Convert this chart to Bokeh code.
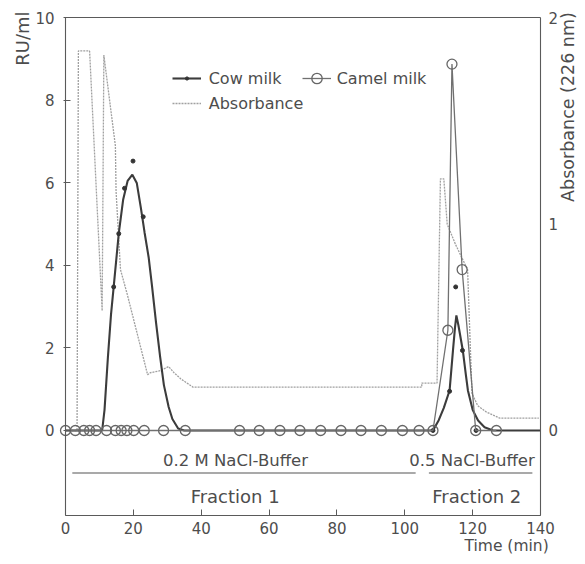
from bokeh.plotting import figure
from bokeh.models import (Range1d, LinearAxis, FixedTicker, Label, Legend, LegendItem,
                          ColumnDataSource)
from bokeh.embed import file_html
from bokeh.resources import INLINE
import math

# ---------------- data ----------------
# Cow milk: drawn (smoothed) curve, RU/ml
cow_curve_t = [0, 10.8, 11.5, 12.5, 13.4, 14.2, 15.7, 17.0, 18.3, 19.7, 21.0, 22.2, 23.3,
               24.5, 25.5, 26.7, 27.9, 29.0, 30.4, 31.5, 33.2, 35.0,
               108.3, 110.0, 111.5, 113.2, 114.2, 114.8, 115.2, 115.8, 117.1, 118.0, 118.6,
               120.0, 121.6, 123.5, 126.0, 140.0]
cow_curve_ru = [0, 0, 0.5, 1.78, 2.8, 3.48, 4.78, 5.6, 6.05, 6.2, 6.0, 5.4, 4.8,
                4.2, 3.5, 2.6, 1.78, 1.1, 0.57, 0.28, 0.05, 0,
                0, 0.25, 0.55, 0.97, 1.94, 2.5, 2.79, 2.55, 1.94, 1.35, 0.97,
                0.5, 0.24, 0.08, 0, 0]
# Cow milk: measured points
cow_pts_t = [14.2, 15.7, 17.4, 19.9, 22.9, 108.3, 113.2, 115.0, 117.0, 121.0]
cow_pts_ru = [3.48, 4.77, 5.87, 6.53, 5.18, 0, 0.95, 3.48, 1.94, 0]

# Camel milk: measured points (RU/ml)
camel_t = [0, 2.9, 5.4, 7.1, 9.0, 12.1, 14.7, 16.4, 18.1, 20.1, 23.2, 28.9, 35.3,
           51.3, 57.1, 63.2, 69.1, 75.2, 81.2, 87.1, 93.1, 99.3, 104.2, 108.3,
           112.7, 113.9, 116.9, 120.9, 127.0]
camel_ru = [0, 0, 0, 0, 0, 0, 0, 0, 0, 0, 0, 0, 0,
            0, 0, 0, 0, 0, 0, 0, 0, 0, 0, 0,
            2.43, 8.88, 3.9, 0, 0]

# Absorbance at 226 nm
abs_t = [0, 3.4, 3.8, 7.1, 10.8, 11.3, 14.7, 14.9, 16.2, 18.2, 24.2, 25.0, 27.9, 30.4,
         32.0, 34.0, 37.6, 40.0, 105.0, 105.0, 109.5, 110.5, 111.5, 112.5, 115.0, 118.5,
         119.8, 121.5, 124.0, 128.0, 139.5]
abs_val = [0, 0, 1.84, 1.84, 0.58, 1.82, 1.38, 1.16, 0.78, 0.66, 0.27, 0.28, 0.29, 0.31,
           0.28, 0.25, 0.21, 0.21, 0.21, 0.23, 0.23, 1.22, 1.22, 1.0, 0.9, 0.78,
           0.18, 0.12, 0.09, 0.06, 0.06]

x_ticks = [0, 20, 40, 60, 80, 100, 120, 140]
ru_ticks = [0, 2, 4, 6, 8, 10]
abs_ticks = [0, 1, 2]

# buffer / fraction annotations
buffer_labels = ["0.2 M NaCl-Buffer", "0.5 NaCl-Buffer"]
buffer_x = [50.1, 119.8]
buffer_start = [2.0, 107.1]
buffer_end = [103.2, 137.6]
fraction_labels = ["Fraction 1", "Fraction 2"]
fraction_x = [50.0, 121.2]

# ---------------- layout constants ----------------
FONT = "DejaVu Sans"
TXT = "#4d4d4d"
AX = "#5a5a5a"
T0, T1 = 0, 140          # time axis extent
Y0, Y1 = -2.06, 10.01    # RU/ml axis extent (frame of the chart box)
RATIO = 5.0              # RU/ml per absorbance unit

# The Bokeh frame fills the canvas; the chart box is drawn with fixed-location axes
p = figure(width=577, height=556, output_backend="svg", toolbar_location=None,
           x_range=Range1d(-19.16, 150.9), y_range=Range1d(-3.054, 10.422),
           x_axis_location=None, y_axis_location=None, min_border=0)
p.extra_y_ranges = {"abs": Range1d(-3.054 / RATIO, 10.422 / RATIO)}
p.xgrid.visible = False
p.ygrid.visible = False
p.outline_line_color = None
p.background_fill_color = "white"
p.border_fill_color = "white"


def style_axis(ax, tick_in, tick_out, standoff):
    ax.major_tick_in = tick_in
    ax.major_tick_out = tick_out
    ax.minor_tick_line_color = None
    ax.major_label_standoff = standoff
    ax.axis_line_color = AX
    ax.axis_line_width = 1.1
    ax.major_tick_line_color = AX
    ax.major_label_text_font = FONT
    ax.major_label_text_font_size = "15px"
    ax.major_label_text_color = TXT


xa = LinearAxis(fixed_location=Y0, bounds=(T0, T1), ticker=FixedTicker(ticks=x_ticks))
style_axis(xa, 6, 0, 7)
p.add_layout(xa, "below")

ya = LinearAxis(fixed_location=T0, bounds=(Y0, Y1), ticker=FixedTicker(ticks=ru_ticks))
style_axis(ya, 5, 2, 9)
p.add_layout(ya, "left")

ra = LinearAxis(y_range_name="abs", fixed_location=T1, bounds=(Y0 / RATIO, Y1 / RATIO),
                ticker=FixedTicker(ticks=abs_ticks))
style_axis(ra, 0, 0, 8)
p.add_layout(ra, "right")

ta = LinearAxis(fixed_location=Y1, bounds=(T0, T1), ticker=FixedTicker(ticks=[]))
style_axis(ta, 0, 0, 0)
ta.major_label_text_font_size = "0px"
p.add_layout(ta, "above")

# ---------------- glyphs ----------------
abs_line = p.line(abs_t, abs_val, y_range_name="abs", line_color="#a0a0a0",
                  line_width=1.3, line_dash="2 1")
cow_line = p.line(cow_curve_t, cow_curve_ru, line_color="#3c3c3c", line_width=2.1)
cow_dots = p.scatter(cow_pts_t, cow_pts_ru, marker="circle", size=4,
                     fill_color="#333333", line_color="#333333")
camel_line = p.line(camel_t, camel_ru, line_color="#707070", line_width=1.3)
camel_circ = p.scatter(camel_t, camel_ru, marker="circle", size=10, fill_color=None,
                       line_color="#666666", line_width=1.3)

# buffer lines
seg_src = ColumnDataSource(dict(x0=buffer_start, x1=buffer_end,
                                y0=[-1.03] * len(buffer_start), y1=[-1.03] * len(buffer_start)))
p.segment(x0="x0", y0="y0", x1="x1", y1="y1", source=seg_src, line_color="#555555",
          line_width=1.2)

for lab, xv in zip(buffer_labels, buffer_x):
    p.add_layout(Label(x=xv, y=-0.73, text=lab, text_align="center", text_baseline="middle",
                       text_font=FONT, text_font_size="16.5px", text_color=TXT))
for lab, xv in zip(fraction_labels, fraction_x):
    p.add_layout(Label(x=xv, y=-1.6, text=lab, text_align="center", text_baseline="middle",
                       text_font=FONT, text_font_size="18px", text_color=TXT))

# axis titles
p.add_layout(Label(x=-12.8, y=9.5, text="RU/ml", angle=math.pi / 2, text_align="center",
                   text_baseline="middle", text_font=FONT, text_font_size="18px",
                   text_color=TXT))
p.add_layout(Label(x=148.0, y=7.84, text="Absorbance (226 nm)", angle=math.pi / 2,
                   text_align="center", text_baseline="middle", text_font=FONT,
                   text_font_size="17.5px", text_color=TXT))
p.add_layout(Label(x=130.0, y=-2.79, text="Time (min)", text_align="center",
                   text_baseline="middle", text_font=FONT, text_font_size="15.5px",
                   text_color=TXT))


# legends (three single-item legends, so each marker keeps its own size)
def make_legend(items, loc, glyph_h, label_h, standoff):
    lg = Legend(items=items, orientation="horizontal", location=loc)
    lg.border_line_color = None
    lg.background_fill_alpha = 0
    lg.padding = 0
    lg.margin = 0
    lg.spacing = 0
    lg.glyph_width = 29
    lg.glyph_height = glyph_h
    lg.label_height = label_h
    lg.label_standoff = standoff
    lg.label_text_font = FONT
    lg.label_text_font_size = "16px"
    lg.label_text_color = TXT
    lg.label_text_baseline = "middle"
    p.add_layout(lg)


make_legend([LegendItem(label="Cow milk", renderers=[cow_line, cow_dots])],
            (171.7, 467.7), 8, 20, 8)
make_legend([LegendItem(label="Camel milk", renderers=[camel_line, camel_circ])],
            (301.7, 464.7), 26, 26, 6)
make_legend([LegendItem(label="Absorbance", renderers=[abs_line])],
            (171.7, 443.0), 20, 20, 8)

open("out.html", "w").write(file_html(p, INLINE))
